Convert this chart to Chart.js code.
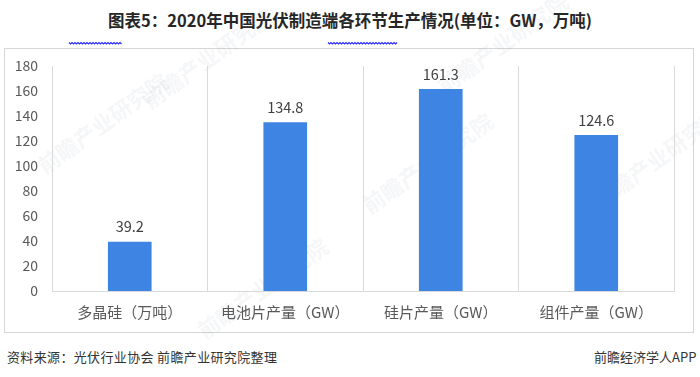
<!DOCTYPE html>
<html>
<head>
<meta charset="utf-8">
<script src="https://cdn.jsdelivr.net/npm/chart.js@4.4.1/dist/chart.umd.min.js"></script>
<style>
  html, body { margin: 0; padding: 0; background: #fff; }
  body { width: 700px; height: 377px; position: relative; overflow: hidden;
         font-family: "Noto Sans CJK SC", "Noto Sans", sans-serif; }
  #title { position: absolute; left: 0; width: 700px; top: 8px; text-align: center;
           font-size: 16.5px; font-weight: bold; color: #262626; }
  #frame { position: absolute; left: 4px; top: 48px; width: 688px; height: 283px;
           border: 1px solid #d6d6d6; }
  #source { position: absolute; left: 7px; top: 347px; font-size: 13px; color: #333; letter-spacing: 0.35px; }
  #app { position: absolute; left: 594px; top: 347px; font-size: 13px; color: #333; white-space: nowrap; }
  canvas { position: absolute; left: 0; top: 0; }
</style>
</head>
<body>
<div id="title">图表5：2020年中国光伏制造端各环节生产情况(单位：GW，万吨)</div>
<div id="frame"></div>
<div id="source">资料来源：光伏行业协会 前瞻产业研究院整理</div>
<div id="app">前瞻经济学人APP</div>
<canvas id="chart" width="700" height="377"></canvas>
<script>
const categories = ['多晶硅（万吨）', '电池片产量（GW）', '硅片产量（GW）', '组件产量（GW）'];
const output = [39.2, 134.8, 161.3, 124.6];
const yTicks = [0, 20, 40, 60, 80, 100, 120, 140, 160, 180];

const fontFamily = '"Noto Sans CJK SC", "Noto Sans", sans-serif';

// value labels above each bar
const valueLabels = {
  id: 'valueLabels',
  afterDatasetsDraw(chart) {
    const ctx = chart.ctx;
    const meta = chart.getDatasetMeta(0);
    ctx.save();
    ctx.font = '14.5px ' + fontFamily;
    ctx.fillStyle = '#404040';
    ctx.textAlign = 'center';
    ctx.textBaseline = 'bottom';
    meta.data.forEach((bar, i) => {
      ctx.fillText(output[i].toFixed(1), bar.x, bar.y - 8);
    });
    ctx.restore();
  }
};

// faint watermarks + the blue spell-check squiggles under the title
const decorations = {
  id: 'decorations',
  beforeDraw(chart) {
    const ctx = chart.ctx;
    ctx.save();
    ctx.fillStyle = 'rgba(120,130,150,0.07)';
    ctx.font = 'bold 22px ' + fontFamily;
    [[45, 175], [205, 340], [370, 215], [445, 95], [600, 210], [150, 110]].forEach(p => {
      ctx.save();
      ctx.translate(p[0], p[1]);
      ctx.rotate(-0.62);
      ctx.fillText('前瞻产业研究院', 0, 0);
      ctx.restore();
    });
    ctx.restore();
  },
  afterDraw(chart) {
    const ctx = chart.ctx;
    ctx.save();
    ctx.strokeStyle = '#2a2aff';
    ctx.lineWidth = 1.2;
    [[69, 122], [328, 397]].forEach(s => {
      ctx.beginPath();
      for (let x = s[0]; x <= s[1]; x += 1.5) {
        const y = 43 + ((Math.round((x - s[0]) / 1.5) % 2) ? 1 : -0.5);
        if (x === s[0]) ctx.moveTo(x, y); else ctx.lineTo(x, y);
      }
      ctx.stroke();
    });
    ctx.restore();
  }
};

new Chart(document.getElementById('chart').getContext('2d'), {
  type: 'bar',
  data: {
    labels: categories,
    datasets: [{
      data: output,
      backgroundColor: '#3D84E3',
      barThickness: 43
    }]
  },
  options: {
    responsive: false,
    animation: false,
    layout: { padding: { top: 66, right: 26, left: 0, bottom: 0 } },
    plugins: { legend: { display: false }, tooltip: { enabled: false } },
    scales: {
      x: {
        grid: { color: '#d9d9d9', drawTicks: false, offset: true },
        border: { color: '#d9d9d9' },
        ticks: { color: '#595959', padding: 12, font: { size: 15, family: fontFamily } },
        afterFit(scale) { scale.height = 86; }
      },
      y: {
        min: 0,
        max: 180,
        afterBuildTicks(scale) { scale.ticks = yTicks.map(v => ({ value: v })); },
        grid: { display: false, drawTicks: false },
        border: { color: '#d9d9d9' },
        ticks: { color: '#595959', padding: 14, font: { size: 14, family: fontFamily } },
        afterFit(scale) { scale.width = 52; }
      }
    }
  },
  plugins: [valueLabels, decorations]
});
</script>
</body>
</html>
